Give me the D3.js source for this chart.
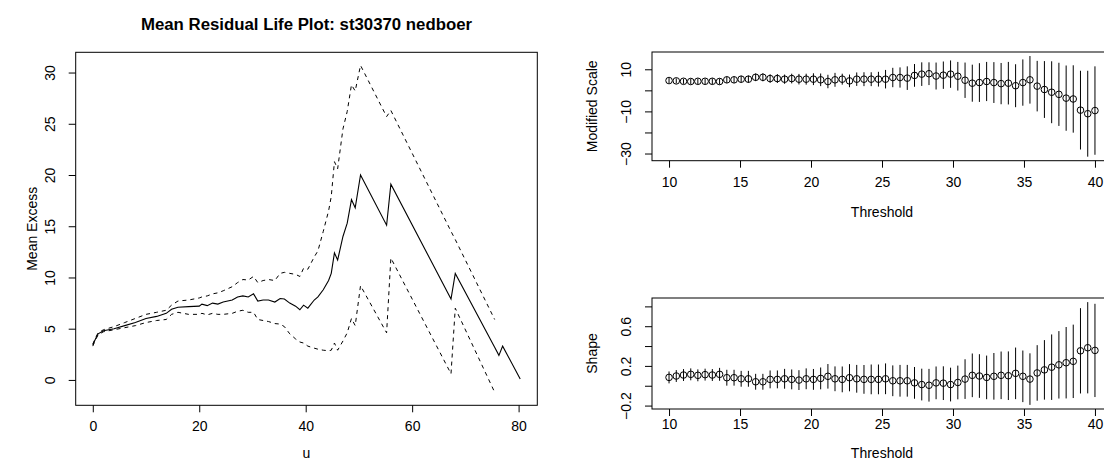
<!DOCTYPE html>
<html>
<head>
<meta charset="utf-8">
<script src="https://cdn.jsdelivr.net/npm/d3@7"></script>
<style>
body { margin: 0; background: #fff; }
text { font-family: "Liberation Sans", Arial, sans-serif; fill: #000; }
</style>
</head>
<body>
<svg width="1104" height="462"></svg>
<script>
// mean residual life plot (left)
const mrlU = [0, 0.5, 1, 2, 4, 6, 8, 10, 12, 13.8, 14.8, 16, 18, 20, 20.5, 21.5, 22.5, 23.5, 24.5, 26.2,
  27.2, 28.2, 29.2, 30.2, 31, 32, 33, 34.2, 35.2, 36, 37, 38.1, 38.9, 39.6, 40.4, 41.6, 42.3, 43.3, 44.3, 44.8,
  45.4, 46, 47, 47.8, 48.6, 49.3, 50.3, 55.2, 56, 67.3, 68.1, 75.5, 76.3, 77, 80.3];
const mrlMean = [3.4, 4.0, 4.5, 4.8, 5.0, 5.3, 5.6, 6.0, 6.2, 6.5, 6.9, 7.1, 7.15, 7.2, 7.4, 7.25, 7.5, 7.4, 7.6, 7.8,
  8.1, 8.2, 8.1, 8.4, 7.7, 7.8, 7.8, 7.6, 7.95, 7.9, 7.5, 7.2, 6.85, 7.3, 7.0, 7.8, 8.1, 8.8, 9.7, 10.4,
  12.4, 11.7, 14.0, 15.3, 17.6, 16.8, 20.0, 15.1, 19.1, 7.9, 10.4, 3.2, 2.4, 3.3, 0.1];
const mrlLower = [3.3, 3.9, 4.4, 4.7, 4.9, 5.1, 5.3, 5.6, 5.8, 5.9, 6.4, 6.6, 6.4, 6.4, 6.5, 6.35, 6.5, 6.4, 6.4, 6.5,
  6.7, 6.8, 6.6, 6.6, 5.9, 5.8, 5.7, 5.5, 5.45, 5.2, 4.5, 4.0, 3.7, 3.6, 3.3, 3.1, 3.0, 2.9, 2.85, 2.9,
  3.6, 2.9, 3.8, 4.6, 6.0, 5.3, 9.2, 4.6, 11.9, 0.6, 7.0, -1.2, null, null, null];
const mrlUpper = [3.5, 4.1, 4.6, 4.9, 5.2, 5.6, 6.0, 6.4, 6.6, 6.8, 7.3, 7.7, 7.8, 8.0, 8.1, 8.2, 8.4, 8.5, 8.7, 9.1,
  9.5, 9.8, 9.75, 10.1, 9.5, 9.7, 9.8, 9.7, 10.4, 10.5, 10.4, 10.3, 10.1, 10.9, 10.8, 12.0, 12.6, 14.5, 16.5, 17.9,
  21.3, 20.6, 24.5, 26.2, 28.8, 28.2, 30.7, 25.7, 26.3, 14.5, 13.7, 5.9, null, null, null];
const mrlXTicks = [0, 20, 40, 60, 80];
const mrlYTicks = [0, 5, 10, 15, 20, 25, 30];

// threshold range fits (right)
const thresholds = [10.00, 10.51, 11.02, 11.53, 12.03, 12.54, 13.05, 13.56, 14.07, 14.58,
  15.08, 15.59, 16.10, 16.61, 17.12, 17.63, 18.14, 18.64, 19.15, 19.66,
  20.17, 20.68, 21.19, 21.69, 22.20, 22.71, 23.22, 23.73, 24.24, 24.75,
  25.25, 25.76, 26.27, 26.78, 27.29, 27.80, 28.31, 28.81, 29.32, 29.83,
  30.34, 30.85, 31.36, 31.86, 32.37, 32.88, 33.39, 33.90, 34.41, 34.92,
  35.42, 35.93, 36.44, 36.95, 37.46, 37.97, 38.47, 38.98, 39.49, 40.00];
const modScale = [4.65, 4.5, 4.3, 4.2, 4.3, 4.3, 4.3, 4.2, 5.0, 5.0, 5.3, 5.3, 6.2, 6.2, 5.6, 5.6, 5.3, 5.6, 5.3, 5.3,
  5.3, 5.0, 4.2, 5.0, 5.3, 4.5, 5.3, 5.3, 5.3, 5.3, 5.3, 6.1, 6.1, 5.8, 7.1, 7.7, 7.9, 6.8, 7.2, 7.7,
  6.7, 4.8, 3.4, 3.7, 4.2, 3.7, 3.2, 3.4, 2.2, 3.7, 5.0, 2.0, 0.4, -0.9, -1.9, -3.7, -4.1, -9.4, -11.1, -9.6];
const modScaleCI = [1.2, 1.2, 1.2, 1.3, 1.3, 1.3, 1.4, 1.4, 1.5, 1.5, 1.6, 1.7, 1.8, 1.9, 2.0, 2.1, 2.2, 2.3, 2.5, 2.6,
  2.8, 3.0, 3.2, 3.3, 2.6, 3.0, 3.2, 3.3, 3.3, 3.5, 4.4, 4.6, 4.8, 5.6, 5.4, 5.6, 5.4, 6.4, 6.5, 6.5,
  6.8, 8.4, 8.8, 9.2, 9.3, 9.7, 9.8, 10.1, 10.2, 11.0, 11.3, 12.0, 13.5, 14.7, 15.0, 15.5, 16.0, 18.7, 20.4, 21.0];
const shape = [0.084, 0.098, 0.108, 0.115, 0.105, 0.112, 0.108, 0.115, 0.081, 0.081, 0.070, 0.070, 0.040, 0.040, 0.064,
  0.064, 0.070, 0.064, 0.057, 0.070, 0.064, 0.074, 0.095, 0.070, 0.064, 0.081, 0.070, 0.064, 0.064, 0.064,
  0.070, 0.050, 0.050, 0.050, 0.029, 0.012, 0.005, 0.029, 0.026, 0.012, 0.033, 0.067, 0.105, 0.098, 0.084,
  0.095, 0.105, 0.101, 0.125, 0.095, 0.067, 0.129, 0.160, 0.187, 0.211, 0.232, 0.246, 0.352, 0.383, 0.356];
const shapeCI = [0.06, 0.06, 0.06, 0.06, 0.06, 0.06, 0.06, 0.065, 0.08, 0.08, 0.08, 0.08, 0.08, 0.08, 0.09,
  0.09, 0.1, 0.1, 0.1, 0.105, 0.105, 0.11, 0.124, 0.125, 0.13, 0.137, 0.14, 0.145, 0.15, 0.15,
  0.155, 0.155, 0.16, 0.16, 0.16, 0.16, 0.165, 0.165, 0.17, 0.17, 0.17, 0.2, 0.22, 0.22, 0.22,
  0.235, 0.24, 0.245, 0.26, 0.26, 0.26, 0.28, 0.3, 0.33, 0.34, 0.36, 0.37, 0.43, 0.46, 0.47];
const thrXTicks = [10, 15, 20, 25, 30, 35, 40];
const scaleYTicks = [10, 0, -10, -20, -30];
const scaleYLabels = [10, -10, -30];
const shapeYTicks = [-0.2, 0, 0.2, 0.4, 0.6, 0.8];
const shapeYLabels = [-0.2, 0.2, 0.6];

const svg = d3.select('svg');
const minus = s => String(s).replace('-', '\u2212');

// R style padded range
function pad(lo, hi) {
  const d = (hi - lo) * 0.04;
  return [lo - d, hi + d];
}

// draws box, axes, labels; returns the scales
function frame(o) {
  const x = d3.scaleLinear().domain(o.xDomain).range([o.left, o.right]);
  const y = d3.scaleLinear().domain(o.yDomain).range([o.bottom, o.top]);

  svg.append('rect')
    .attr('x', o.left).attr('y', o.top)
    .attr('width', o.right - o.left).attr('height', o.bottom - o.top)
    .attr('fill', 'none').attr('stroke', '#000').attr('stroke-width', 1);

  const xa = svg.append('g')
    .attr('transform', `translate(0, ${o.bottom})`)
    .call(d3.axisBottom(x).tickValues(o.xTicks).tickSize(7).tickPadding(o.xPad)
      .tickFormat(d => minus(d)));
  xa.select('.domain').remove();
  xa.selectAll('text').style('font-size', '14px');

  const ya = svg.append('g')
    .attr('transform', `translate(${o.left}, 0)`)
    .call(d3.axisLeft(y).tickValues(o.yTicks).tickSize(7)
      .tickFormat(d => o.yLabels.includes(d) ? minus(d) : ''));
  ya.select('.domain').remove();
  ya.selectAll('text')
    .attr('x', null).attr('dy', '0.35em')
    .attr('transform', 'translate(-26, 0) rotate(-90)')
    .attr('text-anchor', 'middle')
    .style('font-size', '14px');

  svg.append('text')
    .attr('x', (o.left + o.right) / 2).attr('y', o.bottom + o.xTitleGap)
    .attr('text-anchor', 'middle').style('font-size', '14px')
    .text(o.xTitle);
  svg.append('text')
    .attr('transform', `translate(${o.yTitleX}, ${(o.top + o.bottom) / 2}) rotate(-90)`)
    .attr('text-anchor', 'middle').attr('dy', '0.35em').style('font-size', '14px')
    .text(o.yTitle);

  return { x, y };
}

// ---- left panel
const mrlAll = mrlMean.concat(mrlLower.filter(v => v !== null), mrlUpper.filter(v => v !== null));
const left = frame({
  left: 75.7, right: 537.3, top: 52.3, bottom: 405.3,
  xDomain: pad(d3.min(mrlU), d3.max(mrlU)),
  yDomain: pad(d3.min(mrlAll), d3.max(mrlAll)),
  xTicks: mrlXTicks, yTicks: mrlYTicks, yLabels: mrlYTicks, xPad: 9,
  xTitle: 'u', xTitleGap: 52.5, yTitle: 'Mean Excess', yTitleX: 32
});

svg.append('text')
  .attr('x', (75.7 + 537.3) / 2).attr('y', 30)
  .attr('text-anchor', 'middle')
  .style('font-size', '16.8px').style('font-weight', 'bold')
  .text('Mean Residual Life Plot: st30370 nedboer');

const rows = mrlU.map((u, i) => ({ u, m: mrlMean[i], lo: mrlLower[i], hi: mrlUpper[i] }));
const mk = key => d3.line()
  .defined(d => d[key] !== null)
  .x(d => left.x(d.u)).y(d => left.y(d[key]));

svg.append('path').datum(rows).attr('d', mk('m'))
  .attr('fill', 'none').attr('stroke', '#000').attr('stroke-width', 1.1);
['lo', 'hi'].forEach(k => {
  svg.append('path').datum(rows).attr('d', mk(k))
    .attr('fill', 'none').attr('stroke', '#000').attr('stroke-width', 1)
    .attr('stroke-dasharray', '4,4');
});

// ---- right panels
function fitPanel(top, bottom, vals, ci, yTicks, yLabels, yTitle, xPad, xTitleGap) {
  const lows = vals.map((v, i) => v - ci[i]);
  const highs = vals.map((v, i) => v + ci[i]);
  const p = frame({
    left: 652, right: 1112, top, bottom,
    xDomain: pad(d3.min(thresholds), d3.max(thresholds)),
    yDomain: pad(d3.min(lows), d3.max(highs)),
    xTicks: thrXTicks, yTicks, yLabels, xPad,
    xTitle: 'Threshold', xTitleGap, yTitle, yTitleX: 592
  });
  const g = svg.append('g');
  g.selectAll('line').data(thresholds).join('line')
    .attr('x1', d => p.x(d)).attr('x2', d => p.x(d))
    .attr('y1', (d, i) => p.y(lows[i])).attr('y2', (d, i) => p.y(highs[i]))
    .attr('stroke', '#000').attr('stroke-width', 1);
  g.selectAll('circle').data(thresholds).join('circle')
    .attr('cx', d => p.x(d)).attr('cy', (d, i) => p.y(vals[i]))
    .attr('r', 3.3).attr('fill', 'none').attr('stroke', '#000').attr('stroke-width', 1);
}

fitPanel(52, 160.7, modScale, modScaleCI, scaleYTicks, scaleYLabels, 'Modified Scale', 9, 56);
fitPanel(298, 409, shape, shapeCI, shapeYTicks, shapeYLabels, 'Shape', 3, 48.5);
</script>
</body>
</html>
